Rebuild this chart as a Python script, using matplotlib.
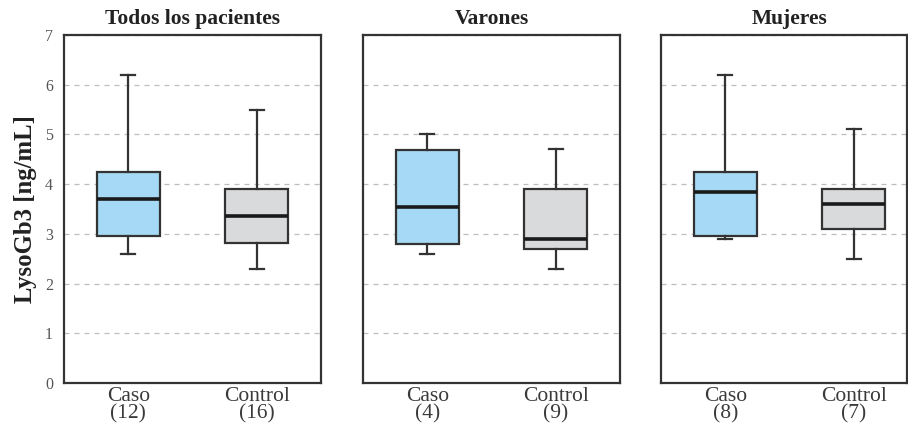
import matplotlib
matplotlib.use("Agg")
import matplotlib.pyplot as plt

plt.rcParams['font.family'] = ['Liberation Serif', 'DejaVu Serif']

panel_titles = ["Todos los pacientes", "Varones", "Mujeres"]
groups = ["Caso", "Control"]
counts = [[12, 16], [4, 9], [8, 7]]
# (whislo, q1, med, q3, whishi) per panel per group
whislo = [[2.6, 2.3], [2.6, 2.3], [2.9, 2.5]]
q1 = [[2.95, 2.82], [2.8, 2.7], [2.95, 3.1]]
med = [[3.7, 3.35], [3.55, 2.9], [3.85, 3.6]]
q3 = [[4.25, 3.9], [4.68, 3.9], [4.25, 3.9]]
whishi = [[6.2, 5.5], [5.0, 4.7], [6.2, 5.1]]
yticks = [0, 1, 2, 3, 4, 5, 6, 7]
ylabel = "LysoGb3 [ng/mL]"

fill_colors = ["#a5d9f5", "#d9dadb"]
edge = "#333333"

W, H = 908, 429
fig = plt.figure(figsize=(W / 100, H / 100), dpi=100)
lefts = [64, 363, 661]
widths = [257, 257, 246]
bottom = 1 - 383 / H
height = (383 - 35) / H

for i in range(3):
    ax = fig.add_axes([lefts[i] / W, bottom, widths[i] / W, height])
    stats = []
    for g in range(2):
        stats.append(dict(whislo=whislo[i][g], q1=q1[i][g], med=med[i][g],
                          q3=q3[i][g], whishi=whishi[i][g], fliers=[],
                          label=f"{groups[g]}\n({counts[i][g]})"))
    bp = ax.bxp(stats, positions=[1, 2], widths=0.49, patch_artist=True,
                showfliers=False,
                boxprops=dict(edgecolor=edge, linewidth=1.6),
                medianprops=dict(color="#1a1a1a", linewidth=2.6),
                whiskerprops=dict(color=edge, linewidth=1.6),
                capprops=dict(color=edge, linewidth=1.6), capwidths=0.11)
    for patch, c in zip(bp['boxes'], fill_colors):
        patch.set_facecolor(c)
    if i == 2:
        ax.set_xlim(0.5, 0.5 + 2 * widths[i] / 257)
    else:
        ax.set_xlim(0.5, 2.5)
    ax.set_ylim(0, 7)
    ax.set_yticks(yticks)
    ax.yaxis.grid(True, linestyle=(0, (4, 4)), color="#bdbdbd", linewidth=0.9)
    ax.set_axisbelow(True)
    for s in ax.spines.values():
        s.set_color(edge)
        s.set_linewidth(1.6)
    ax.tick_params(axis='both', length=0)
    ax.tick_params(axis='x', labelsize=15.5, labelcolor="#3a3a3a", pad=3)
    for lab in ax.get_xticklabels():
        lab.set_linespacing(0.88)
    if i == 0:
        ax.tick_params(axis='y', labelsize=11.5, labelcolor="#555555", pad=8)
        ax.set_ylabel(ylabel, fontsize=17.8, fontweight='bold', color="#222222", labelpad=6)
    else:
        ax.set_yticklabels([])
    ax.set_title(panel_titles[i], fontsize=15.5,
                 fontweight='bold', color="#222222", pad=8,
                 x=(0.5 if i < 2 else 0.5 * 257 / widths[i]))

fig.savefig("out.png", dpi=100)
